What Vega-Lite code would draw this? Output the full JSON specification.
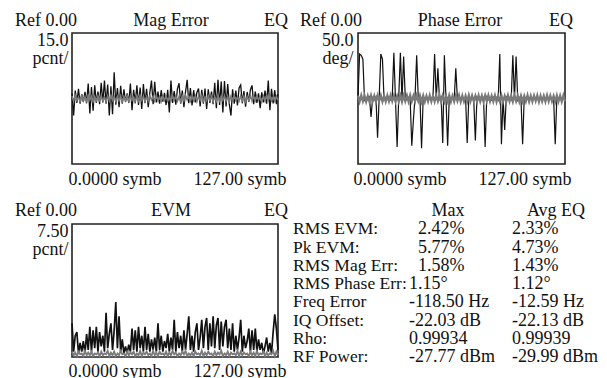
{
"$schema": "https://vega.github.io/schema/vega-lite/v6.json",
"background": "white",
"padding": {"left": 14, "top": 11, "right": 0, "bottom": 0},
"config": {
  "font": "Liberation Serif, Times New Roman, DejaVu Serif, serif",
  "view": {"stroke": "#222", "strokeWidth": 1.6},
  "axis": {"grid": false, "ticks": false, "tickSize": 0, "domain": false, "labelFont": "Liberation Serif, Times New Roman, DejaVu Serif, serif", "labelFontSize": 18, "labelColor": "#111", "titleFont": "Liberation Serif, Times New Roman, DejaVu Serif, serif", "titleFontSize": 18, "titleColor": "#111", "titleFontWeight": "normal"},
  "text": {"font": "Liberation Serif, Times New Roman, DejaVu Serif, serif", "fontSize": 18, "color": "#111", "baseline": "alphabetic"}
},
"datasets": {
"mag": [
{"x":0,"y":1.2,"g":0.5},{"x":1,"y":-3.9,"g":-0.6},{"x":2,"y":1.8,"g":0.7},{"x":3,"y":-1.0,"g":-0.4},{"x":4,"y":2.2,"g":0.3},{"x":5,"y":-1.2,"g":-0.7},{"x":6,"y":1.0,"g":0.6},{"x":7,"y":-0.8,"g":-0.5},
{"x":8,"y":1.5,"g":0.4},{"x":9,"y":-1.1,"g":-0.6},{"x":10,"y":3.4,"g":0.7},{"x":11,"y":-3.4,"g":-0.3},{"x":12,"y":2.6,"g":0.5},{"x":13,"y":-2.8,"g":-0.7},{"x":14,"y":3.0,"g":0.4},{"x":15,"y":-1.0,"g":-0.5},
{"x":16,"y":1.6,"g":0.6},{"x":17,"y":-1.3,"g":-0.4},{"x":18,"y":3.6,"g":0.5},{"x":19,"y":-0.9,"g":-0.6},{"x":20,"y":4.1,"g":0.3},{"x":21,"y":-1.2,"g":-0.7},{"x":22,"y":3.2,"g":0.6},{"x":23,"y":-3.9,"g":-0.5},
{"x":24,"y":2.8,"g":0.7},{"x":25,"y":-3.6,"g":-0.4},{"x":26,"y":6.0,"g":0.4},{"x":27,"y":-1.4,"g":-0.6},{"x":28,"y":2.4,"g":0.5},{"x":29,"y":-2.0,"g":-0.5},{"x":30,"y":2.9,"g":0.6},{"x":31,"y":-1.2,"g":-0.7},
{"x":32,"y":2.1,"g":0.4},{"x":33,"y":-0.8,"g":-0.5},{"x":34,"y":1.2,"g":0.7},{"x":35,"y":-1.0,"g":-0.6},{"x":36,"y":3.4,"g":0.5},{"x":37,"y":-2.7,"g":-0.4},{"x":38,"y":2.0,"g":0.3},{"x":39,"y":-1.1,"g":-0.6},
{"x":40,"y":3.0,"g":0.6},{"x":41,"y":-1.5,"g":-0.5},{"x":42,"y":2.5,"g":0.7},{"x":43,"y":-2.4,"g":-0.4},{"x":44,"y":3.3,"g":0.5},{"x":45,"y":-1.0,"g":-0.7},{"x":46,"y":2.2,"g":0.4},{"x":47,"y":-2.0,"g":-0.6},
{"x":48,"y":1.4,"g":0.6},{"x":49,"y":4.1,"g":-0.3},{"x":50,"y":-1.3,"g":0.5},{"x":51,"y":3.8,"g":-0.6},{"x":52,"y":-0.9,"g":0.7},{"x":53,"y":1.6,"g":-0.5},{"x":54,"y":-1.2,"g":0.4},{"x":55,"y":1.9,"g":-0.7},
{"x":56,"y":-0.7,"g":0.5},{"x":57,"y":1.3,"g":-0.4},{"x":58,"y":-1.5,"g":0.6},{"x":59,"y":2.0,"g":-0.6},{"x":60,"y":-3.2,"g":0.3},{"x":61,"y":4.1,"g":-0.5},{"x":62,"y":-1.0,"g":0.7},{"x":63,"y":1.7,"g":-0.4},
{"x":64,"y":-1.4,"g":0.5},{"x":65,"y":2.2,"g":-0.6},{"x":66,"y":3.5,"g":0.4},{"x":67,"y":-1.2,"g":-0.7},{"x":68,"y":1.8,"g":0.6},{"x":69,"y":-2.0,"g":-0.5},{"x":70,"y":1.5,"g":0.7},{"x":71,"y":4.3,"g":-0.3},
{"x":72,"y":-1.1,"g":0.5},{"x":73,"y":2.4,"g":-0.6},{"x":74,"y":-1.6,"g":0.4},{"x":75,"y":1.9,"g":-0.5},{"x":76,"y":-0.9,"g":0.6},{"x":77,"y":1.4,"g":-0.7},{"x":78,"y":2.3,"g":0.5},{"x":79,"y":-1.8,"g":-0.4},
{"x":80,"y":2.0,"g":0.7},{"x":81,"y":-1.2,"g":-0.6},{"x":82,"y":2.3,"g":0.3},{"x":83,"y":-2.4,"g":-0.5},{"x":84,"y":2.1,"g":0.6},{"x":85,"y":-1.0,"g":-0.4},{"x":86,"y":1.6,"g":0.5},{"x":87,"y":-1.3,"g":-0.7},
{"x":88,"y":3.6,"g":0.4},{"x":89,"y":-2.2,"g":-0.6},{"x":90,"y":4.3,"g":0.7},{"x":91,"y":-1.5,"g":-0.5},{"x":92,"y":3.9,"g":0.5},{"x":93,"y":-3.2,"g":-0.4},{"x":94,"y":4.0,"g":0.6},{"x":95,"y":-1.8,"g":-0.6},
{"x":96,"y":3.3,"g":0.4},{"x":97,"y":-1.4,"g":-0.7},{"x":98,"y":-3.9,"g":0.5},{"x":99,"y":2.1,"g":-0.5},{"x":100,"y":-1.2,"g":0.7},{"x":101,"y":1.8,"g":-0.4},{"x":102,"y":-1.6,"g":0.3},{"x":103,"y":2.4,"g":-0.6},
{"x":104,"y":3.1,"g":0.6},{"x":105,"y":-1.1,"g":-0.5},{"x":106,"y":1.7,"g":0.5},{"x":107,"y":-1.9,"g":-0.7},{"x":108,"y":1.5,"g":0.4},{"x":109,"y":-0.8,"g":-0.4},{"x":110,"y":2.0,"g":0.7},{"x":111,"y":3.0,"g":-0.6},
{"x":112,"y":-1.3,"g":0.5},{"x":113,"y":1.6,"g":-0.5},{"x":114,"y":-1.0,"g":0.6},{"x":115,"y":1.2,"g":-0.3},{"x":116,"y":-2.2,"g":0.4},{"x":117,"y":1.4,"g":-0.7},{"x":118,"y":-0.9,"g":0.5},{"x":119,"y":1.8,"g":-0.6},
{"x":120,"y":-1.2,"g":0.7},{"x":121,"y":4.1,"g":-0.4},{"x":122,"y":-2.7,"g":0.6},{"x":123,"y":2.2,"g":-0.5},{"x":124,"y":-1.1,"g":0.3},{"x":125,"y":1.9,"g":-0.6},{"x":126,"y":-1.3,"g":0.5},{"x":127,"y":1.0,"g":-0.4}
],
"phase": [
{"x":0,"y":1.0,"g":2.2},{"x":1,"y":34,"g":-2.4},{"x":2,"y":33,"g":2.5},{"x":3,"y":30,"g":-2.1},{"x":4,"y":-1.2,"g":2.3},{"x":5,"y":0.8,"g":-2.5},{"x":6,"y":-0.9,"g":2.0},{"x":7,"y":1.1,"g":-2.3},
{"x":8,"y":-14,"g":2.4},{"x":9,"y":0.7,"g":-2.2},{"x":10,"y":-1.0,"g":2.1},{"x":11,"y":1.2,"g":-2.5},{"x":12,"y":-30,"g":2.3},{"x":13,"y":0.9,"g":-2.0},{"x":14,"y":34,"g":2.5},{"x":15,"y":30,"g":-2.3},
{"x":16,"y":-1.1,"g":2.1},{"x":17,"y":0.8,"g":-2.4},{"x":18,"y":-0.7,"g":2.3},{"x":19,"y":1.3,"g":-2.2},{"x":20,"y":-1.0,"g":2.5},{"x":21,"y":0.6,"g":-2.1},{"x":22,"y":35,"g":2.2},{"x":23,"y":-0.9,"g":-2.4},
{"x":24,"y":-37,"g":2.0},{"x":25,"y":1.0,"g":-2.3},{"x":26,"y":35,"g":2.4},{"x":27,"y":-1.2,"g":-2.5},{"x":28,"y":32,"g":2.2},{"x":29,"y":0.8,"g":-2.1},{"x":30,"y":-1.1,"g":2.3},{"x":31,"y":0.9,"g":-2.4},
{"x":32,"y":-0.8,"g":2.5},{"x":33,"y":-36,"g":-2.2},{"x":34,"y":-16,"g":2.1},{"x":35,"y":1.1,"g":-2.3},{"x":36,"y":33,"g":2.4},{"x":37,"y":-0.7,"g":-2.0},{"x":38,"y":1.0,"g":2.3},{"x":39,"y":-38,"g":-2.5},
{"x":40,"y":0.9,"g":2.2},{"x":41,"y":-1.2,"g":-2.4},{"x":42,"y":0.7,"g":2.0},{"x":43,"y":-0.9,"g":-2.2},{"x":44,"y":1.1,"g":2.5},{"x":45,"y":-0.8,"g":-2.3},{"x":46,"y":0.6,"g":2.1},{"x":47,"y":34,"g":-2.4},
{"x":48,"y":-1.0,"g":2.3},{"x":49,"y":23,"g":-2.1},{"x":50,"y":-0.7,"g":2.4},{"x":51,"y":1.2,"g":-2.5},{"x":52,"y":-34,"g":2.2},{"x":53,"y":33,"g":-2.3},{"x":54,"y":-1.1,"g":2.0},{"x":55,"y":-36,"g":-2.2},
{"x":56,"y":0.9,"g":2.5},{"x":57,"y":-0.6,"g":-2.4},{"x":58,"y":1.0,"g":2.1},{"x":59,"y":-1.2,"g":-2.3},{"x":60,"y":23,"g":2.3},{"x":61,"y":-0.8,"g":-2.0},{"x":62,"y":0.9,"g":2.4},{"x":63,"y":-1.0,"g":-2.5},
{"x":64,"y":1.2,"g":2.2},{"x":65,"y":-0.7,"g":-2.3},{"x":66,"y":0.8,"g":2.1},{"x":67,"y":-34,"g":-2.4},{"x":68,"y":1.0,"g":2.5},{"x":69,"y":-0.9,"g":-2.2},{"x":70,"y":0.7,"g":2.3},{"x":71,"y":-1.1,"g":-2.1},
{"x":72,"y":-32,"g":2.0},{"x":73,"y":1.2,"g":-2.5},{"x":74,"y":-0.8,"g":2.4},{"x":75,"y":0.9,"g":-2.3},{"x":76,"y":-1.0,"g":2.2},{"x":77,"y":0.6,"g":-2.4},{"x":78,"y":-37,"g":2.3},{"x":79,"y":1.1,"g":-2.0},
{"x":80,"y":-0.9,"g":2.5},{"x":81,"y":0.8,"g":-2.2},{"x":82,"y":-1.2,"g":2.1},{"x":83,"y":1.0,"g":-2.3},{"x":84,"y":-0.7,"g":2.4},{"x":85,"y":0.9,"g":-2.5},{"x":86,"y":-1.1,"g":2.2},{"x":87,"y":34,"g":-2.1},
{"x":88,"y":-35,"g":2.3},{"x":89,"y":0.8,"g":-2.4},{"x":90,"y":-24,"g":2.0},{"x":91,"y":1.1,"g":-2.3},{"x":92,"y":-0.9,"g":2.5},{"x":93,"y":0.7,"g":-2.2},{"x":94,"y":-1.0,"g":2.1},{"x":95,"y":33,"g":-2.4},
{"x":96,"y":-0.8,"g":2.4},{"x":97,"y":32,"g":-2.1},{"x":98,"y":-1.2,"g":2.3},{"x":99,"y":0.9,"g":-2.5},{"x":100,"y":-0.7,"g":2.2},{"x":101,"y":-35,"g":-2.3},{"x":102,"y":1.0,"g":2.0},{"x":103,"y":-1.1,"g":-2.2},
{"x":104,"y":0.8,"g":2.5},{"x":105,"y":-0.9,"g":-2.4},{"x":106,"y":1.2,"g":2.1},{"x":107,"y":-0.6,"g":-2.3},{"x":108,"y":0.9,"g":2.3},{"x":109,"y":-1.0,"g":-2.0},{"x":110,"y":1.1,"g":2.4},{"x":111,"y":-0.8,"g":-2.5},
{"x":112,"y":0.7,"g":2.2},{"x":113,"y":-1.2,"g":-2.3},{"x":114,"y":1.0,"g":2.1},{"x":115,"y":-0.9,"g":-2.4},{"x":116,"y":0.8,"g":2.5},{"x":117,"y":-1.1,"g":-2.2},{"x":118,"y":0.6,"g":2.3},{"x":119,"y":-0.7,"g":-2.1},
{"x":120,"y":1.0,"g":2.0},{"x":121,"y":-35,"g":-2.5},{"x":122,"y":0.9,"g":2.4},{"x":123,"y":-1.0,"g":-2.3},{"x":124,"y":1.2,"g":2.2},{"x":125,"y":-0.8,"g":-2.4},{"x":126,"y":0.7,"g":2.3},{"x":127,"y":-1.0,"g":-2.1}
],
"evm": [
{"x":0,"y":1.9,"g":0.3},{"x":1,"y":0.3,"g":0.1},{"x":2,"y":1.2,"g":0.25},{"x":3,"y":1.4,"g":0.05},{"x":4,"y":0.2,"g":0.3},{"x":5,"y":0.8,"g":0.15},{"x":6,"y":0.3,"g":0.2},{"x":7,"y":0.9,"g":0.05},
{"x":8,"y":0.2,"g":0.35},{"x":9,"y":1.3,"g":0.1},{"x":10,"y":0.4,"g":0.25},{"x":11,"y":1.7,"g":0.1},{"x":12,"y":0.3,"g":0.3},{"x":13,"y":1.5,"g":0.05},{"x":14,"y":0.5,"g":0.2},{"x":15,"y":1.7,"g":0.15},
{"x":16,"y":0.3,"g":0.25},{"x":17,"y":1.4,"g":0.05},{"x":18,"y":0.6,"g":0.3},{"x":19,"y":1.2,"g":0.1},{"x":20,"y":0.3,"g":0.2},{"x":21,"y":2.5,"g":0.15},{"x":22,"y":0.5,"g":0.35},{"x":23,"y":1.3,"g":0.05},
{"x":24,"y":1.9,"g":0.25},{"x":25,"y":0.4,"g":0.1},{"x":26,"y":1.5,"g":0.3},{"x":27,"y":3.1,"g":0.05},{"x":28,"y":0.5,"g":0.2},{"x":29,"y":2.3,"g":0.1},{"x":30,"y":0.3,"g":0.35},{"x":31,"y":1.0,"g":0.15},
{"x":32,"y":0.2,"g":0.2},{"x":33,"y":0.6,"g":0.05},{"x":34,"y":0.2,"g":0.3},{"x":35,"y":0.7,"g":0.1},{"x":36,"y":0.3,"g":0.25},{"x":37,"y":1.6,"g":0.15},{"x":38,"y":0.4,"g":0.3},{"x":39,"y":1.5,"g":0.05},
{"x":40,"y":0.3,"g":0.2},{"x":41,"y":1.7,"g":0.1},{"x":42,"y":0.5,"g":0.35},{"x":43,"y":1.2,"g":0.05},{"x":44,"y":0.3,"g":0.25},{"x":45,"y":1.7,"g":0.15},{"x":46,"y":0.4,"g":0.3},{"x":47,"y":1.3,"g":0.1},
{"x":48,"y":0.3,"g":0.2},{"x":49,"y":1.0,"g":0.05},{"x":50,"y":0.4,"g":0.35},{"x":51,"y":1.1,"g":0.1},{"x":52,"y":0.3,"g":0.25},{"x":53,"y":1.9,"g":0.05},{"x":54,"y":0.4,"g":0.3},{"x":55,"y":1.2,"g":0.15},
{"x":56,"y":0.3,"g":0.2},{"x":57,"y":0.9,"g":0.1},{"x":58,"y":0.5,"g":0.3},{"x":59,"y":1.3,"g":0.05},{"x":60,"y":0.3,"g":0.25},{"x":61,"y":1.1,"g":0.1},{"x":62,"y":0.4,"g":0.35},{"x":63,"y":2.1,"g":0.15},
{"x":64,"y":0.3,"g":0.25},{"x":65,"y":1.4,"g":0.05},{"x":66,"y":0.5,"g":0.2},{"x":67,"y":1.2,"g":0.1},{"x":68,"y":0.3,"g":0.3},{"x":69,"y":1.5,"g":0.15},{"x":70,"y":0.4,"g":0.35},{"x":71,"y":1.3,"g":0.05},
{"x":72,"y":2.3,"g":0.2},{"x":73,"y":0.4,"g":0.1},{"x":74,"y":1.2,"g":0.25},{"x":75,"y":0.3,"g":0.05},{"x":76,"y":1.4,"g":0.3},{"x":77,"y":1.9,"g":0.15},{"x":78,"y":0.4,"g":0.2},{"x":79,"y":1.1,"g":0.1},
{"x":80,"y":2.1,"g":0.35},{"x":81,"y":0.5,"g":0.05},{"x":82,"y":1.7,"g":0.25},{"x":83,"y":2.2,"g":0.1},{"x":84,"y":0.4,"g":0.3},{"x":85,"y":1.9,"g":0.15},{"x":86,"y":0.6,"g":0.2},{"x":87,"y":2.3,"g":0.05},
{"x":88,"y":0.5,"g":0.3},{"x":89,"y":1.8,"g":0.1},{"x":90,"y":2.2,"g":0.25},{"x":91,"y":0.4,"g":0.15},{"x":92,"y":2.0,"g":0.35},{"x":93,"y":0.6,"g":0.05},{"x":94,"y":1.7,"g":0.2},{"x":95,"y":2.1,"g":0.1},
{"x":96,"y":0.5,"g":0.3},{"x":97,"y":1.6,"g":0.05},{"x":98,"y":0.4,"g":0.25},{"x":99,"y":1.9,"g":0.15},{"x":100,"y":0.3,"g":0.2},{"x":101,"y":1.2,"g":0.1},{"x":102,"y":0.4,"g":0.35},{"x":103,"y":1.1,"g":0.05},
{"x":104,"y":2.1,"g":0.3},{"x":105,"y":0.3,"g":0.1},{"x":106,"y":1.2,"g":0.25},{"x":107,"y":0.5,"g":0.15},{"x":108,"y":0.9,"g":0.2},{"x":109,"y":1.6,"g":0.05},{"x":110,"y":0.3,"g":0.3},{"x":111,"y":1.5,"g":0.1},
{"x":112,"y":0.4,"g":0.25},{"x":113,"y":1.6,"g":0.05},{"x":114,"y":0.3,"g":0.35},{"x":115,"y":1.0,"g":0.1},{"x":116,"y":0.4,"g":0.2},{"x":117,"y":0.8,"g":0.15},{"x":118,"y":0.2,"g":0.3},{"x":119,"y":0.6,"g":0.05},
{"x":120,"y":1.1,"g":0.25},{"x":121,"y":0.3,"g":0.1},{"x":122,"y":0.8,"g":0.2},{"x":123,"y":0.2,"g":0.15},{"x":124,"y":1.4,"g":0.35},{"x":125,"y":2.4,"g":0.05},{"x":126,"y":1.6,"g":0.3},{"x":127,"y":0.4,"g":0.1}
],
"table": [
{"r":0,"c":"max","t":"Max"},{"r":0,"c":"avg","t":"Avg EQ"},
{"r":1,"c":"label","t":"RMS EVM:"},{"r":1,"c":"max","t":"2.42%"},{"r":1,"c":"avg","t":"2.33%"},
{"r":2,"c":"label","t":"Pk EVM:"},{"r":2,"c":"max","t":"5.77%"},{"r":2,"c":"avg","t":"4.73%"},
{"r":3,"c":"label","t":"RMS Mag Err:"},{"r":3,"c":"max","t":"1.58%"},{"r":3,"c":"avg","t":"1.43%"},
{"r":4,"c":"label","t":"RMS Phase Err:"},{"r":4,"c":"max","t":"1.15°"},{"r":4,"c":"avg","t":"1.12°"},
{"r":5,"c":"label","t":"Freq Error"},{"r":5,"c":"max","t":"-118.50 Hz"},{"r":5,"c":"avg","t":"-12.59 Hz"},
{"r":6,"c":"label","t":"IQ Offset:"},{"r":6,"c":"max","t":"-22.03 dB"},{"r":6,"c":"avg","t":"-22.13 dB"},
{"r":7,"c":"label","t":"Rho:"},{"r":7,"c":"max","t":"0.99934"},{"r":7,"c":"avg","t":"0.99939"},
{"r":8,"c":"label","t":"RF Power:"},{"r":8,"c":"max","t":"-27.77 dBm"},{"r":8,"c":"avg","t":"-29.99 dBm"}
]
},
"columns": 2,
"spacing": {"row": 60, "column": 80},
"bounds": "flush",
"concat": [
{
 "width": 206, "height": 131,
 "layer": [
  {"data": {"name": "mag"}, "mark": {"type": "line", "color": "#111", "strokeWidth": 1.3},
   "encoding": {
    "x": {"field": "x", "type": "quantitative", "scale": {"domain": [0, 127], "nice": false, "zero": false}, "axis": {"values": [0, 127], "labelExpr": "datum.value == 0 ? '0.0000 symb' : '127.00 symb'", "labelAlign": {"condition": {"test": "datum.value == 0", "value": "left"}, "value": "right"}, "labelOffset": {"condition": {"test": "datum.value == 0", "value": -4}, "value": 8}, "labelOverlap": false, "labelBaseline": "alphabetic", "labelPadding": 20, "title": null}},
    "y": {"field": "y", "type": "quantitative", "scale": {"domain": [-15, 15], "nice": false, "zero": false}, "axis": {"labels": false, "title": ["15.0", "pcnt/"], "titleAngle": 0, "titleAlign": "right", "titleBaseline": "alphabetic", "titleX": -4, "titleY": 12, "titleLineHeight": 18}}}},
  {"data": {"name": "mag"}, "mark": {"type": "line", "color": "#7a7a7a", "strokeWidth": 1.6},
   "encoding": {"x": {"field": "x", "type": "quantitative", "scale": {"domain": [0, 127], "nice": false, "zero": false}}, "y": {"field": "g", "type": "quantitative", "scale": {"domain": [-15, 15], "nice": false, "zero": false}}}},
  {"data": {"values": [{}]}, "mark": {"type": "text", "align": "left"}, "encoding": {"x": {"datum": -35.1, "scale": {"domain": [0, 127], "nice": false, "zero": false}}, "y": {"datum": 16.6, "scale": {"domain": [-15, 15], "nice": false, "zero": false}}, "text": {"value": "Ref 0.00"}}},
  {"data": {"values": [{}]}, "mark": {"type": "text", "align": "center"}, "encoding": {"x": {"datum": 61, "scale": {"domain": [0, 127], "nice": false, "zero": false}}, "y": {"datum": 16.6, "scale": {"domain": [-15, 15], "nice": false, "zero": false}}, "text": {"value": "Mag Error"}}},
  {"data": {"values": [{}]}, "mark": {"type": "text", "align": "right"}, "encoding": {"x": {"datum": 133.2, "scale": {"domain": [0, 127], "nice": false, "zero": false}}, "y": {"datum": 16.6, "scale": {"domain": [-15, 15], "nice": false, "zero": false}}, "text": {"value": "EQ"}}}
 ]
},
{
 "width": 207, "height": 131,
 "layer": [
  {"data": {"name": "phase"}, "mark": {"type": "line", "color": "#111", "strokeWidth": 1.2},
   "encoding": {
    "x": {"field": "x", "type": "quantitative", "scale": {"domain": [0, 127], "nice": false, "zero": false}, "axis": {"values": [0, 127], "labelExpr": "datum.value == 0 ? '0.0000 symb' : '127.00 symb'", "labelAlign": {"condition": {"test": "datum.value == 0", "value": "left"}, "value": "right"}, "labelOffset": {"condition": {"test": "datum.value == 0", "value": -5}, "value": 6}, "labelOverlap": false, "labelBaseline": "alphabetic", "labelPadding": 20, "title": null}},
    "y": {"field": "y", "type": "quantitative", "scale": {"domain": [-50, 50], "nice": false, "zero": false}, "axis": {"labels": false, "title": ["50.0", "deg/"], "titleAngle": 0, "titleAlign": "right", "titleBaseline": "alphabetic", "titleX": -5, "titleY": 12, "titleLineHeight": 18}}}},
  {"data": {"name": "phase"}, "mark": {"type": "line", "color": "#7a7a7a", "strokeWidth": 2.2},
   "encoding": {"x": {"field": "x", "type": "quantitative", "scale": {"domain": [0, 127], "nice": false, "zero": false}}, "y": {"field": "g", "type": "quantitative", "scale": {"domain": [-50, 50], "nice": false, "zero": false}}}},
  {"data": {"values": [{}]}, "mark": {"type": "text", "align": "left"}, "encoding": {"x": {"datum": -35.6, "scale": {"domain": [0, 127], "nice": false, "zero": false}}, "y": {"datum": 55.3, "scale": {"domain": [-50, 50], "nice": false, "zero": false}}, "text": {"value": "Ref 0.00"}}},
  {"data": {"values": [{}]}, "mark": {"type": "text", "align": "center"}, "encoding": {"x": {"datum": 62.6, "scale": {"domain": [0, 127], "nice": false, "zero": false}}, "y": {"datum": 55.3, "scale": {"domain": [-50, 50], "nice": false, "zero": false}}, "text": {"value": "Phase Error"}}},
  {"data": {"values": [{}]}, "mark": {"type": "text", "align": "right"}, "encoding": {"x": {"datum": 131.9, "scale": {"domain": [0, 127], "nice": false, "zero": false}}, "y": {"datum": 55.3, "scale": {"domain": [-50, 50], "nice": false, "zero": false}}, "text": {"value": "EQ"}}}
 ]
},
{
 "width": 206, "height": 133,
 "layer": [
  {"data": {"name": "evm"}, "mark": {"type": "line", "color": "#111", "strokeWidth": 1.7},
   "encoding": {
    "x": {"field": "x", "type": "quantitative", "scale": {"domain": [0, 127], "nice": false, "zero": false}, "axis": {"values": [0, 127], "labelExpr": "datum.value == 0 ? '0.0000 symb' : '127.00 symb'", "labelAlign": {"condition": {"test": "datum.value == 0", "value": "left"}, "value": "right"}, "labelOffset": {"condition": {"test": "datum.value == 0", "value": -4}, "value": 8}, "labelOverlap": false, "labelBaseline": "alphabetic", "labelPadding": 19, "title": null}},
    "y": {"field": "y", "type": "quantitative", "scale": {"domain": [0, 7.5], "nice": false, "zero": false}, "axis": {"labels": false, "title": ["7.50", "pcnt/"], "titleAngle": 0, "titleAlign": "right", "titleBaseline": "alphabetic", "titleX": -4, "titleY": 12, "titleLineHeight": 18}}}},
  {"data": {"name": "evm"}, "mark": {"type": "line", "color": "#7a7a7a", "strokeWidth": 1.8},
   "encoding": {"x": {"field": "x", "type": "quantitative", "scale": {"domain": [0, 127], "nice": false, "zero": false}}, "y": {"field": "g", "type": "quantitative", "scale": {"domain": [0, 7.5], "nice": false, "zero": false}}}},
  {"data": {"values": [{}]}, "mark": {"type": "text", "align": "left"}, "encoding": {"x": {"datum": -35.1, "scale": {"domain": [0, 127], "nice": false, "zero": false}}, "y": {"datum": 7.95, "scale": {"domain": [0, 7.5], "nice": false, "zero": false}}, "text": {"value": "Ref 0.00"}}},
  {"data": {"values": [{}]}, "mark": {"type": "text", "align": "center"}, "encoding": {"x": {"datum": 61, "scale": {"domain": [0, 127], "nice": false, "zero": false}}, "y": {"datum": 7.95, "scale": {"domain": [0, 7.5], "nice": false, "zero": false}}, "text": {"value": "EVM"}}},
  {"data": {"values": [{}]}, "mark": {"type": "text", "align": "right"}, "encoding": {"x": {"datum": 133.2, "scale": {"domain": [0, 127], "nice": false, "zero": false}}, "y": {"datum": 7.95, "scale": {"domain": [0, 7.5], "nice": false, "zero": false}}, "text": {"value": "EQ"}}}
 ]
},
{
 "width": 207, "height": 146,
 "view": {"stroke": null},
 "data": {"name": "table"},
 "encoding": {
  "x": {"field": "c", "type": "nominal", "scale": {"type": "point", "domain": ["label", "max", "avg"], "range": [-65, 154], "padding": 0}, "axis": null},
  "y": {"field": "r", "type": "ordinal", "scale": {"type": "point", "domain": [0, 1, 2, 3, 4, 5, 6, 7, 8], "padding": 0}, "axis": null},
  "text": {"field": "t"}
 },
 "layer": [
  {"transform": [{"filter": "datum.r > 0 && datum.c == 'label'"}], "mark": {"type": "text", "align": "left", "dy": -8, "fontSize": 17.5}},
  {"transform": [{"filter": "datum.r > 0 && datum.c == 'avg'"}], "mark": {"type": "text", "align": "left", "dy": -8}},
  {"transform": [{"filter": "datum.r > 0 && datum.r <= 3 && datum.c == 'max'"}], "mark": {"type": "text", "align": "left", "dy": -8, "dx": 15.5}},
  {"transform": [{"filter": "datum.r > 3 && datum.c == 'max'"}], "mark": {"type": "text", "align": "left", "dy": -8, "dx": 6.5}},
  {"transform": [{"filter": "datum.r == 0 && datum.c == 'max'"}], "mark": {"type": "text", "align": "center", "dy": -8, "dx": 45.5}},
  {"transform": [{"filter": "datum.r == 0 && datum.c == 'avg'"}], "mark": {"type": "text", "align": "center", "dy": -8, "dx": 44}}
 ]
}
]
}
